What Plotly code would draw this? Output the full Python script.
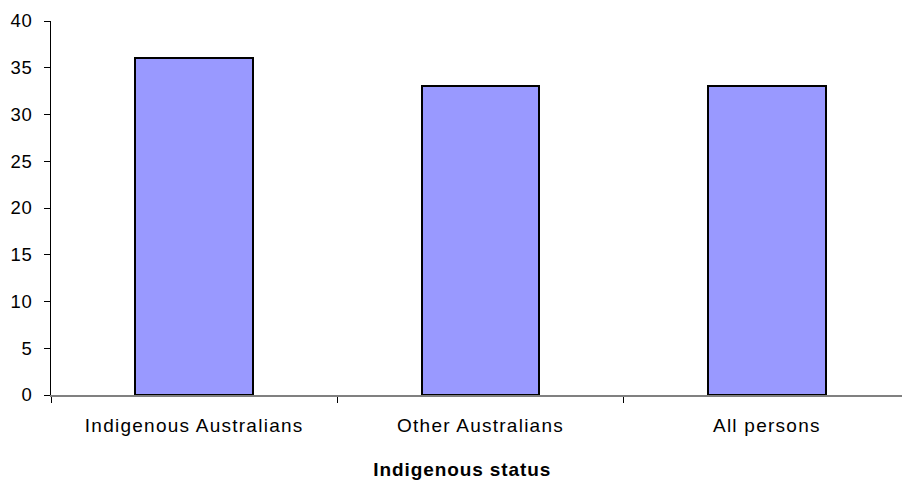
import plotly.graph_objects as go

# Share of persons by Indigenous status
categories = ["Indigenous Australians", "Other Australians", "All persons"]
values = [36, 33, 33]
y_ticks = [0, 5, 10, 15, 20, 25, 30, 35, 40]

font_family = "Liberation Sans, Arial, sans-serif"

fig = go.Figure(
    go.Bar(
        x=categories,
        y=values,
        width=0.41,
        marker=dict(color="#9999FF", line=dict(color="#000000", width=2)),
        hoverinfo="x+y",
    )
)

fig.update_layout(
    width=902,
    height=483,
    margin=dict(l=51, r=0, t=21, b=88),
    paper_bgcolor="white",
    plot_bgcolor="white",
    showlegend=False,
    font=dict(family=font_family, size=18, color="#000000"),
    bargap=0,
    annotations=[
        dict(
            text="<b>Indigenous status</b>",
            xref="paper",
            yref="paper",
            x=0.484,
            y=-0.198,
            xanchor="center",
            yanchor="middle",
            showarrow=False,
            font=dict(family=font_family, size=19, color="#000000"),
        )
    ],
)

fig.update_xaxes(
    type="category",
    range=[-0.5, 2.472],
    showgrid=False,
    showline=True,
    linecolor="#808080",
    linewidth=2,
    ticks="outside",
    tickson="boundaries",
    ticklen=6,
    tickwidth=1,
    tickcolor="#000000",
    ticklabelstandoff=12,
    tickfont=dict(family=font_family, size=19, color="#000000"),
    zeroline=False,
)

fig.update_yaxes(
    range=[0, 40],
    tickvals=y_ticks,
    showgrid=False,
    showline=True,
    linecolor="#000000",
    linewidth=1,
    ticks="outside",
    ticklen=6,
    tickwidth=1,
    tickcolor="#000000",
    ticklabelstandoff=8,
    tickfont=dict(family=font_family, size=18.5, color="#000000"),
    zeroline=False,
)

# widen glyph spacing of the tick labels and axis caption
post = """
var gd = document.getElementById('{plot_id}');
gd.querySelectorAll('.xtick text').forEach(function(t){ t.style.letterSpacing = '1.25px'; });
gd.querySelectorAll('.annotation-text').forEach(function(t){ t.style.letterSpacing = '0.9px'; });
gd.querySelectorAll('.ytick text').forEach(function(t){ t.style.letterSpacing = '0.6px'; });
"""

fig.write_html("out.html", post_script=post)
